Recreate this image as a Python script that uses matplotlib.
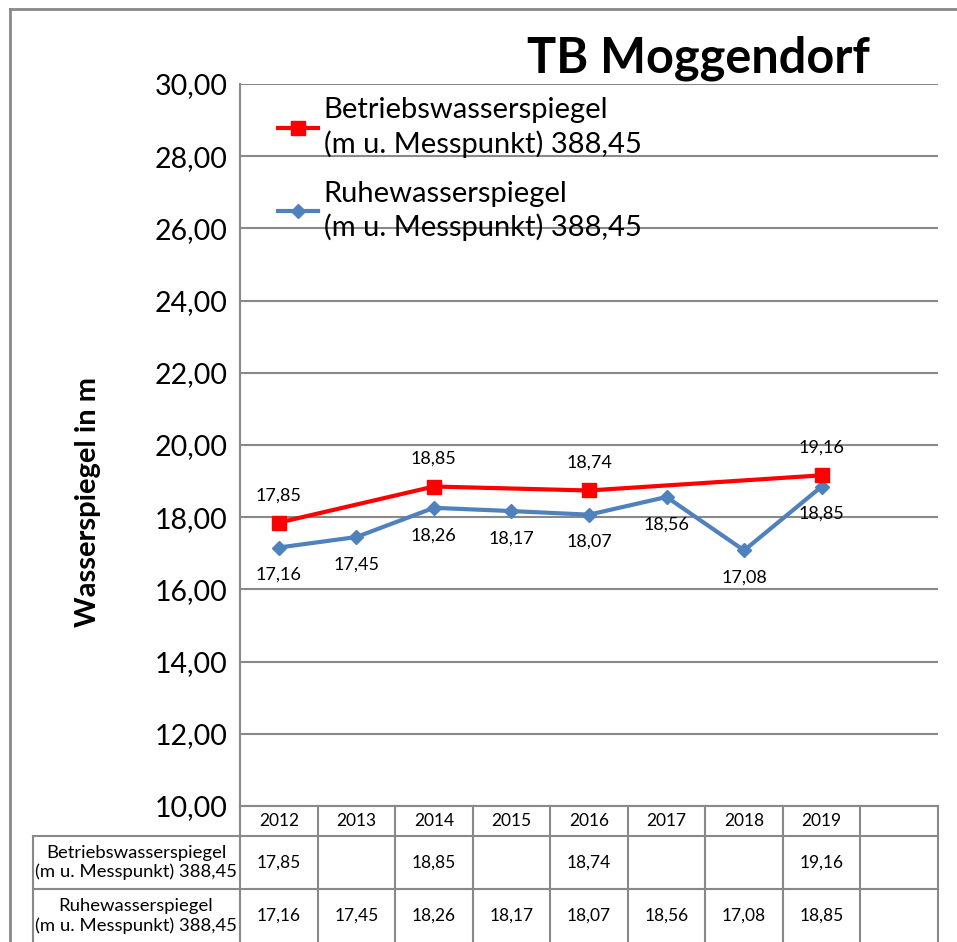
import matplotlib
matplotlib.use("Agg")
from matplotlib import pyplot as plt
from matplotlib.lines import Line2D
from matplotlib import transforms

years = ["2012", "2013", "2014", "2015", "2016", "2017", "2018", "2019", ""]
betrieb = [17.85, None, 18.85, None, 18.74, None, None, 19.16, None]
ruhe = [17.16, 17.45, 18.26, 18.17, 18.07, 18.56, 17.08, 18.85, None]
label_betrieb = "Betriebswasserspiegel\n(m u. Messpunkt) 388,45"
label_ruhe = "Ruhewasserspiegel\n(m u. Messpunkt) 388,45"
title = "TB Moggendorf"
y_label = "Wasserspiegel in m"

W, H = 957, 942
RED = "#FF0000"
BLUE = "#4F81BD"
GRID = "#898989"
FONT = "Lato"

plt.rcParams['font.family'] = [FONT, 'DejaVu Sans']


def fx(x):
    return x / W


def fy(y):
    return 1 - y / H


def fmt(v):
    return f"{v:.2f}".replace(".", ",")


fig = plt.figure(figsize=(W / 100, H / 100), dpi=100)

# outer chart frame
fig.add_artist(Line2D([fx(10), fx(W + 5)], [fy(9), fy(9)], color=GRID, lw=2))
fig.add_artist(Line2D([fx(10), fx(10)], [fy(9), fy(H + 5)], color=GRID, lw=2))

ax = fig.add_axes([fx(240), fy(806), fx(938) - fx(240), fy(84) - fy(806)])
ax.set_xlim(-0.5, len(years) - 0.5)
ax.set_ylim(10, 30)
ax.set_yticks(range(10, 31, 2))
ax.set_yticklabels([fmt(v) for v in range(10, 31, 2)], fontsize=20.5)
ax.tick_params(axis="y", length=0, pad=9)
ax.set_xticks([])
ax.grid(axis="y", color=GRID, lw=1.5)
ax.set_axisbelow(True)
for s in ["top", "right", "bottom"]:
    ax.spines[s].set_visible(False)
ax.spines["left"].set_color(GRID)
ax.spines["left"].set_linewidth(1.5)

bx = [i for i, v in enumerate(betrieb) if v is not None]
by = [v for v in betrieb if v is not None]
rx = [i for i, v in enumerate(ruhe) if v is not None]
ry = [v for v in ruhe if v is not None]

ax.plot(rx, ry, color=BLUE, lw=3, marker="D", markersize=7, label=label_ruhe, zorder=3)
ax.plot(bx, by, color=RED, lw=3, marker="s", markersize=10, label=label_betrieb, zorder=4)

for x, v in zip(bx, by):
    ax.annotate(fmt(v), (x, v), xytext=(0, 14), textcoords="offset points",
                ha="center", va="bottom", fontsize=13)
for x, v in zip(rx, ry):
    ax.annotate(fmt(v), (x, v), xytext=(0, -14), textcoords="offset points",
                ha="center", va="top", fontsize=13)

handles, labels = ax.get_legend_handles_labels()
leg = ax.legend(handles[::-1], labels[::-1], loc="upper left", bbox_to_anchor=(0.03, 1.006),
                frameon=False, fontsize=21, handlelength=1.35, handletextpad=0.2,
                labelspacing=0.8, borderaxespad=0.2)
for t in leg.get_texts():
    t.set_linespacing(1.3)

fig.text(fx(698), fy(58), title, ha="center", va="center", fontsize=35, fontweight="bold")
fig.text(fx(88), fy(502), y_label, ha="center", va="center", rotation=90,
         fontsize=21, fontweight="bold")

# data table below the axis
tr = transforms.blended_transform_factory(ax.transData, fig.transFigure)
row_top, row1, row2, row_bot = fy(806), fy(836), fy(889), fy(H + 5)
n = len(years)
ax.add_artist(Line2D([-0.5, n - 0.5], [row_top, row_top], transform=tr, color=GRID,
                     lw=1.5, clip_on=False))
for y in [row1, row2]:
    fig.add_artist(Line2D([fx(33), fx(938)], [y, y], color=GRID, lw=1.5))
for i in range(n + 1):
    ax.add_artist(Line2D([i - 0.5, i - 0.5], [row_top, row_bot], transform=tr,
                         color=GRID, lw=1.5, clip_on=False))
fig.add_artist(Line2D([fx(33), fx(33)], [row1, row_bot], color=GRID, lw=1.5))

for i, yr in enumerate(years):
    ax.text(i, (row_top + row1) / 2, yr, transform=tr, ha="center", va="center", fontsize=12.5)
    if betrieb[i] is not None:
        ax.text(i, (row1 + row2) / 2, fmt(betrieb[i]), transform=tr, ha="center",
                va="center", fontsize=12.5)
    if ruhe[i] is not None:
        ax.text(i, fy(916), fmt(ruhe[i]), transform=tr, ha="center",
                va="center", fontsize=12.5)

fig.text(fx(136), (row1 + row2) / 2, label_betrieb, ha="center", va="center",
         fontsize=13.3, linespacing=1.2)
fig.text(fx(136), fy(916), label_ruhe, ha="center", va="center",
         fontsize=13.3, linespacing=1.2)

fig.savefig("out.png", dpi=100)
